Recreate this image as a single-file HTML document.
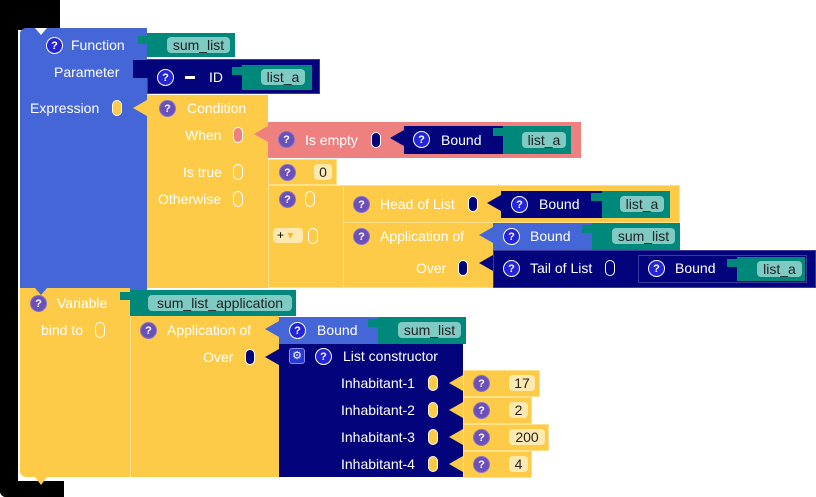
<!DOCTYPE html>
<html><head><meta charset="utf-8">
<style>
*{margin:0;padding:0;box-sizing:border-box}
body{width:816px;height:497px;background:#fff;position:relative;overflow:hidden;font-family:"Liberation Sans",sans-serif}
.b{position:absolute}
.t{position:absolute;color:#fff;font-size:14px;height:18px;line-height:18px;white-space:nowrap}
.q{position:absolute;width:17px;height:17px;border-radius:50%;background:#6a50b8;color:#fff;font-size:11px;font-weight:bold;text-align:center;line-height:17px;border:1px solid #fff3}
.qb{background:#2424d8;border:1px solid #fff}
.l{position:absolute;height:16px;line-height:16px;border-radius:4px;background:#7fcac3;color:#222;font-size:14px;text-align:center}
.ly{background:#feeab0;color:#222}
.p{position:absolute;width:10px;height:16px;border-radius:5px;border:1.5px solid #fff}
.Y{background:#fdcb48}.B{background:#4566d7}.N{background:#03037c}.T{background:#00897b}.P{background:#ef8080}
.arr{position:absolute;width:0;height:0;border-top:8px solid transparent;border-bottom:8px solid transparent}
</style></head><body>
<!-- black frame -->
<div class="b" style="left:0;top:0;width:60px;height:30px;background:#000"></div>
<div class="b" style="left:0;top:0;width:18px;height:497px;background:#000;border-radius:0 0 0 6px"></div>
<div class="b" style="left:0;top:481px;width:64px;height:16px;background:#000;border-radius:0 0 0 6px"></div>
<div class="b" style="left:18px;top:470px;width:10px;height:11px;background:#fff;border-radius:0 0 0 6px"></div>

<!-- blue function block -->
<div class="b B" style="left:20px;top:28px;width:127px;height:262px;border-radius:6px 0 0 0"></div>
<div class="b" style="left:35px;top:28px;width:0;height:0;border-left:6px solid transparent;border-right:6px solid transparent;border-top:7px solid #fff"></div>
<div class="q qb" style="left:46px;top:37px">?</div>
<div class="t" style="left:71px;top:36px">Function</div>
<div class="b T" style="left:147px;top:33px;width:88px;height:24px"></div>
<div class="b T" style="left:138px;top:36px;width:10px;height:8px"></div>
<div class="l" style="left:167px;top:37px;width:63px">sum_list</div>

<div class="t" style="left:54px;top:63px">Parameter</div>
<div class="b N" style="left:147px;top:59px;width:173px;height:35px;border:1px solid #3a3aa0"></div>
<div class="b N" style="left:133px;top:60px;width:15px;height:18px"></div>
<div class="q qb" style="left:157px;top:69px">?</div>
<div class="b" style="left:185px;top:76px;width:10px;height:3px;background:#fff"></div>
<div class="t" style="left:209px;top:68px">ID</div>
<div class="b T" style="left:242px;top:65px;width:70px;height:25px"></div>
<div class="b T" style="left:232px;top:67px;width:11px;height:8px"></div>
<div class="l" style="left:261px;top:69px;width:44px">list_a</div>

<div class="t" style="left:30px;top:99px">Expression</div>
<div class="p Y" style="left:112px;top:100px"></div>

<!-- condition block -->
<div class="b Y" style="left:147px;top:95px;width:121px;height:193px"></div>
<div class="arr" style="left:133px;top:100px;border-right:14px solid #fdcb48"></div>
<div class="q" style="left:159px;top:100px">?</div>
<div class="t" style="left:187px;top:99px">Condition</div>
<div class="t" style="left:185px;top:126px">When</div>
<div class="p P" style="left:233px;top:127px"></div>
<div class="t" style="left:183px;top:163px">Is true</div>
<div class="p Y" style="left:233px;top:164px"></div>
<div class="t" style="left:158px;top:190px">Otherwise</div>
<div class="p Y" style="left:233px;top:191px"></div>

<!-- is empty -->
<div class="b P" style="left:268px;top:122px;width:313px;height:36px"></div>
<div class="arr" style="left:254px;top:126px;border-right:14px solid #ef8080"></div>
<div class="q" style="left:278px;top:131px">?</div>
<div class="t" style="left:305px;top:131px">Is empty</div>
<div class="p N" style="left:371px;top:132px"></div>
<div class="b N" style="left:404px;top:126px;width:99px;height:28px"></div>
<div class="arr" style="left:390px;top:130px;border-right:14px solid #03037c"></div>
<div class="q qb" style="left:413px;top:131px">?</div>
<div class="t" style="left:441px;top:131px">Bound</div>
<div class="b T" style="left:503px;top:126px;width:68px;height:28px"></div>
<div class="b T" style="left:493px;top:128px;width:11px;height:8px"></div>
<div class="l" style="left:522px;top:132px;width:44px">list_a</div>

<!-- 0 -->
<div class="b Y" style="left:268px;top:159px;width:69px;height:26px;border:1px solid #fde08a"></div>
<div class="q" style="left:279px;top:164px">?</div>
<div class="l ly" style="left:314px;top:164px;width:18px">0</div>

<!-- otherwise block -->
<div class="b Y" style="left:268px;top:185px;width:412px;height:103px;border:1px solid #fde08a"></div>
<div class="q" style="left:279px;top:191px">?</div>
<div class="p" style="left:305px;top:191px;border-color:#fff"></div>
<div class="b" style="left:273px;top:228px;width:30px;height:15px;background:#feeab0;border-radius:4px;font-size:12px;line-height:15px;padding-left:4px">+ <span style="color:#f5b830">▾</span></div>
<div class="p" style="left:308px;top:228px"></div>
<div class="b" style="left:343px;top:185px;width:1px;height:103px;background:#fde08a"></div>
<div class="b" style="left:343px;top:222px;width:337px;height:1px;background:#fde08a"></div>
<div class="q" style="left:353px;top:196px">?</div>
<div class="t" style="left:380px;top:195px">Head of List</div>
<div class="p N" style="left:468px;top:196px"></div>
<div class="b N" style="left:501px;top:191px;width:101px;height:27px"></div>
<div class="arr" style="left:487px;top:195px;border-right:14px solid #03037c"></div>
<div class="q qb" style="left:511px;top:196px">?</div>
<div class="t" style="left:539px;top:195px">Bound</div>
<div class="b T" style="left:602px;top:191px;width:68px;height:27px"></div>
<div class="b T" style="left:591px;top:193px;width:12px;height:8px"></div>
<div class="l" style="left:620px;top:196px;width:44px">list_a</div>

<div class="q" style="left:353px;top:228px">?</div>
<div class="t" style="left:380px;top:227px">Application of</div>
<div class="b B" style="left:493px;top:223px;width:99px;height:27px"></div>
<div class="arr" style="left:479px;top:227px;border-right:14px solid #4566d7"></div>
<div class="q qb" style="left:503px;top:228px">?</div>
<div class="t" style="left:530px;top:227px">Bound</div>
<div class="b T" style="left:592px;top:223px;width:88px;height:27px"></div>
<div class="b T" style="left:582px;top:225px;width:11px;height:8px"></div>
<div class="l" style="left:612px;top:228px;width:63px">sum_list</div>

<div class="t" style="left:416px;top:259px">Over</div>
<div class="p N" style="left:458px;top:260px"></div>
<div class="b N" style="left:493px;top:250px;width:323px;height:38px;border:1px solid #3a3aa0"></div>
<div class="arr" style="left:479px;top:255px;border-right:14px solid #03037c"></div>
<div class="q qb" style="left:503px;top:260px">?</div>
<div class="t" style="left:530px;top:259px">Tail of List</div>
<div class="p" style="left:605px;top:260px"></div>
<div class="b N" style="left:638px;top:255px;width:169px;height:28px;border:1px solid #3a3aa0"></div>
<div class="q qb" style="left:648px;top:260px">?</div>
<div class="t" style="left:675px;top:259px">Bound</div>
<div class="b T" style="left:737px;top:257px;width:68px;height:24px"></div>
<div class="b T" style="left:727px;top:259px;width:11px;height:8px"></div>
<div class="l" style="left:757px;top:261px;width:45px">list_a</div>

<!-- variable block -->
<div class="b Y" style="left:20px;top:288px;width:110px;height:189px;border-radius:0 0 0 6px"></div>
<div class="b" style="left:35px;top:288px;width:0;height:0;border-left:6px solid transparent;border-right:6px solid transparent;border-top:7px solid #4566d7"></div>
<div class="b" style="left:35px;top:477px;width:0;height:0;border-left:6px solid transparent;border-right:6px solid transparent;border-top:8px solid #fdcb48"></div>
<div class="q" style="left:30px;top:295px">?</div>
<div class="t" style="left:57px;top:294px">Variable</div>
<div class="b T" style="left:130px;top:290px;width:166px;height:26px"></div>
<div class="b T" style="left:120px;top:292px;width:11px;height:8px"></div>
<div class="l" style="left:148px;top:295px;width:144px">sum_list_application</div>
<div class="t" style="left:41px;top:321px">bind to</div>
<div class="p" style="left:95px;top:322px"></div>

<div class="b Y" style="left:130px;top:316px;width:149px;height:161px;border-left:1px solid #fde08a"></div>
<div class="q" style="left:140px;top:322px">?</div>
<div class="t" style="left:167px;top:321px">Application of</div>
<div class="b B" style="left:279px;top:317px;width:99px;height:27px"></div>
<div class="arr" style="left:265px;top:321px;border-right:14px solid #4566d7"></div>
<div class="q qb" style="left:289px;top:322px">?</div>
<div class="t" style="left:317px;top:321px">Bound</div>
<div class="b T" style="left:378px;top:317px;width:88px;height:27px"></div>
<div class="b T" style="left:368px;top:319px;width:11px;height:8px"></div>
<div class="l" style="left:398px;top:322px;width:63px">sum_list</div>

<div class="t" style="left:203px;top:348px">Over</div>
<div class="p N" style="left:245px;top:349px"></div>
<div class="b N" style="left:279px;top:344px;width:184px;height:133px"></div>
<div class="arr" style="left:265px;top:349px;border-right:14px solid #03037c"></div>
<div class="b" style="left:289px;top:348px;width:16px;height:16px;border:1px solid #8888ff;border-radius:3px;background:#2a3ad0;color:#fff;font-size:11px;text-align:center;line-height:14px">⚙</div>
<div class="q qb" style="left:315px;top:348px">?</div>
<div class="t" style="left:343px;top:347px">List constructor</div>

<div class="t" style="left:341px;top:374px">Inhabitant-1</div>
<div class="p Y" style="left:428px;top:375px"></div>
<div class="t" style="left:341px;top:401px">Inhabitant-2</div>
<div class="p Y" style="left:428px;top:402px"></div>
<div class="t" style="left:341px;top:428px">Inhabitant-3</div>
<div class="p Y" style="left:428px;top:429px"></div>
<div class="t" style="left:341px;top:455px">Inhabitant-4</div>
<div class="p Y" style="left:428px;top:456px"></div>

<div class="b Y" style="left:463px;top:370px;width:77px;height:27px;border:1px solid #fde08a"></div>
<div class="arr" style="left:449px;top:375px;border-right:14px solid #fdcb48"></div>
<div class="q" style="left:473px;top:375px">?</div>
<div class="l ly" style="left:509px;top:375px;width:26px">17</div>
<div class="b Y" style="left:463px;top:397px;width:69px;height:27px;border:1px solid #fde08a"></div>
<div class="arr" style="left:449px;top:402px;border-right:14px solid #fdcb48"></div>
<div class="q" style="left:473px;top:402px">?</div>
<div class="l ly" style="left:509px;top:402px;width:19px">2</div>
<div class="b Y" style="left:463px;top:424px;width:86px;height:27px;border:1px solid #fde08a"></div>
<div class="arr" style="left:449px;top:429px;border-right:14px solid #fdcb48"></div>
<div class="q" style="left:473px;top:429px">?</div>
<div class="l ly" style="left:509px;top:429px;width:36px">200</div>
<div class="b Y" style="left:463px;top:451px;width:69px;height:27px;border:1px solid #fde08a"></div>
<div class="arr" style="left:449px;top:456px;border-right:14px solid #fdcb48"></div>
<div class="q" style="left:473px;top:456px">?</div>
<div class="l ly" style="left:509px;top:456px;width:19px">4</div>
</body></html>
